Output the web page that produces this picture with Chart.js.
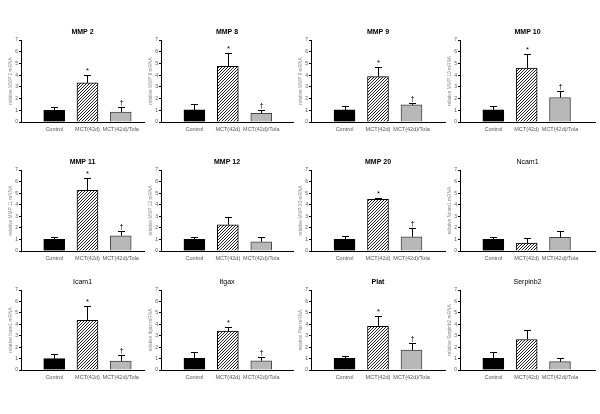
<!DOCTYPE html>
<html>
<head>
<meta charset="utf-8">
<script src="https://cdn.jsdelivr.net/npm/chart.js@4/dist/chart.umd.min.js"></script>
<style>
  body { margin: 0; background: #fff; width: 600px; height: 414px; overflow: hidden; position: relative; }
  canvas { position: absolute; }
</style>
</head>
<body>
<script>
// categories and tick range
const groups = ["Control", "MCT(42d)", "MCT(42d)/Tola"];
const yMax = 7;

// bar means and top of the error bars (mean + SEM)
const mmp2 = [1.0, 3.35, 0.85];     const mmp2Err = [1.27, 3.97, 1.27];
const mmp8 = [1.03, 4.76, 0.75];    const mmp8Err = [1.55, 5.85, 1.05];
const mmp9 = [1.03, 3.87, 1.46];    const mmp9Err = [1.35, 4.67, 1.66];
const mmp10 = [1.03, 4.6, 2.09];    const mmp10Err = [1.4, 5.77, 2.63];
const mmp11 = [1.0, 5.25, 1.32];    const mmp11Err = [1.18, 6.28, 1.72];
const mmp12 = [1.0, 2.27, 0.8];     const mmp12Err = [1.2, 2.9, 1.23];
const mmp20 = [1.0, 4.47, 1.23];    const mmp20Err = [1.29, 4.56, 1.95];
const ncam1 = [1.0, 0.69, 1.18];    const ncam1Err = [1.23, 1.09, 1.72];
const icam1 = [0.99, 4.34, 0.79];   const icam1Err = [1.37, 5.57, 1.28];
const itgax = [1.02, 3.4, 0.81];    const itgaxErr = [1.54, 3.75, 1.16];
const plat = [1.02, 3.82, 1.75];    const platErr = [1.22, 4.72, 2.36];
const serpinb2 = [1.02, 2.67, 0.73]; const serpinb2Err = [1.6, 3.46, 1.02];

// significance marks
const sig = ["", "*", "\u2020"];
const none = ["", "", ""];

const panels = [
  { title: "MMP 2", bold: true, axis: "relative MMP 2 mRNA", mean: mmp2, err: mmp2Err, marks: sig },
  { title: "MMP 8", bold: true, axis: "relative MMP 8 mRNA", mean: mmp8, err: mmp8Err, marks: sig },
  { title: "MMP 9", bold: true, axis: "relative MMP 9 mRNA", mean: mmp9, err: mmp9Err, marks: sig },
  { title: "MMP 10", bold: true, axis: "relative MMP 10 mRNA", mean: mmp10, err: mmp10Err, marks: sig },
  { title: "MMP 11", bold: true, axis: "relative MMP 11 mRNA", mean: mmp11, err: mmp11Err, marks: sig },
  { title: "MMP 12", bold: true, axis: "relative MMP 12 mRNA", mean: mmp12, err: mmp12Err, marks: none },
  { title: "MMP 20", bold: true, axis: "relative MMP 20 mRNA", mean: mmp20, err: mmp20Err, marks: sig },
  { title: "Ncam1", bold: false, axis: "relative Ncam1 mRNA", mean: ncam1, err: ncam1Err, marks: none },
  { title: "Icam1", bold: false, axis: "relative Icam1 mRNA", mean: icam1, err: icam1Err, marks: sig },
  { title: "Itgax", bold: false, axis: "relative Itgax mRNA", mean: itgax, err: itgaxErr, marks: sig },
  { title: "Plat", bold: true, axis: "relative Plat mRNA", mean: plat, err: platErr, marks: sig },
  { title: "Serpinb2", bold: false, axis: "relative Serpinb2 mRNA", mean: serpinb2, err: serpinb2Err, marks: none },
];

// grid placement
const colAxisX = [21, 161, 311, 460];
const colXMax = [3.7, 3.95, 4.0, 4.05];
const rowPlotTop = [40, 170, 290];
const rowPlotH = [82, 81, 80];
const slot = 33.5;
const leftW = 21, topH = 20, bottomH = 14;
const fontFamily = "'Liberation Sans', Arial, sans-serif";

// crisp 1px diagonal hatch, 3px repeat
function makeHatch() {
  const c = document.createElement("canvas");
  c.width = 3; c.height = 3;
  const g = c.getContext("2d");
  g.fillStyle = "#fff";
  g.fillRect(0, 0, 3, 3);
  g.fillStyle = "#222";
  g.fillRect(0, 2, 1, 1);
  g.fillRect(1, 1, 1, 1);
  g.fillRect(2, 0, 1, 1);
  return g.createPattern(c, "repeat");
}
const hatch = makeHatch();

const errorBars = {
  id: "errorBars",
  afterDatasetsDraw(chart, args, opts) {
    const meta = chart.getDatasetMeta(0);
    const y = chart.scales.y;
    const ctx = chart.ctx;
    ctx.save();
    ctx.strokeStyle = "#000";
    ctx.fillStyle = "#000";
    ctx.lineWidth = 1;
    ctx.textAlign = "center";
    ctx.textBaseline = "bottom";
    ctx.font = "7.5px " + fontFamily;
    meta.data.forEach((bar, i) => {
      const top = Math.round(y.getPixelForValue(opts.err[i])) + 0.5;
      const x = Math.round(bar.x) + 0.5;
      ctx.beginPath();
      ctx.moveTo(x, bar.y);
      ctx.lineTo(x, top);
      ctx.moveTo(x - 3.5, top);
      ctx.lineTo(x + 3.5, top);
      ctx.stroke();
      if (opts.marks[i]) ctx.fillText(opts.marks[i], x, top - 1);
    });
    ctx.restore();
  },
};

panels.forEach((p, i) => {
  const col = i % 4, row = Math.floor(i / 4);
  const cv = document.createElement("canvas");
  const w = leftW + colXMax[col] * slot + 2;
  const h = topH + rowPlotH[row] + bottomH;
  cv.width = w; cv.height = h;
  cv.style.left = (colAxisX[col] - leftW) + "px";
  cv.style.top = (rowPlotTop[row] - topH) + "px";
  document.body.appendChild(cv);

  new Chart(cv, {
    type: "bar",
    data: {
      datasets: [{
        data: p.mean.map((v, k) => ({ x: k + 1, y: v })),
        backgroundColor: ["#000", hatch, "#b8b8b8"],
        borderColor: ["#000", "#000", "#444"],
        borderWidth: 1,
        barThickness: 21,
      }],
    },
    options: {
      responsive: false,
      animation: false,
      devicePixelRatio: 1,
      layout: { padding: { left: 0, right: 2, top: 0, bottom: 0 } },
      plugins: {
        legend: { display: false },
        tooltip: { enabled: false },
        title: {
          display: true,
          fullSize: false,
          text: p.title,
          color: "#000",
          font: { family: fontFamily, size: 7, weight: p.bold ? "bold" : "normal" },
          padding: { top: 7.8, bottom: 3.8 },
        },
        errorBars: { err: p.err, marks: p.marks },
      },
      scales: {
        x: {
          type: "linear",
          offset: false,
          min: 0,
          max: colXMax[col],
          afterBuildTicks: (s) => { s.ticks = [1, 2, 3].map((v) => ({ value: v })); },
          afterFit: (s) => { s.height = bottomH; },
          grid: { display: false, drawTicks: false, offset: false },
          border: { display: true, color: "#000", width: 1 },
          ticks: {
            autoSkip: false,
            maxRotation: 0,
            padding: 4,
            color: "#555",
            font: { family: fontFamily, size: 5.5 },
            callback: (v) => groups[v - 1] || "",
          },
        },
        y: {
          min: 0,
          max: yMax,
          afterFit: (s) => { s.width = leftW; },
          grid: { drawOnChartArea: false, drawTicks: true, tickLength: 2, color: "#000" },
          border: { display: true, color: "#000", width: 1 },
          ticks: {
            stepSize: 1,
            padding: 1,
            color: "#555",
            font: { family: fontFamily, size: 5 },
          },
          title: {
            display: true,
            text: p.axis,
            color: "#888",
            padding: { top: 8, bottom: 0 },
            font: { family: fontFamily, size: 4.8 },
          },
        },
      },
    },
    plugins: [errorBars],
  });
});
</script>
</body>
</html>
